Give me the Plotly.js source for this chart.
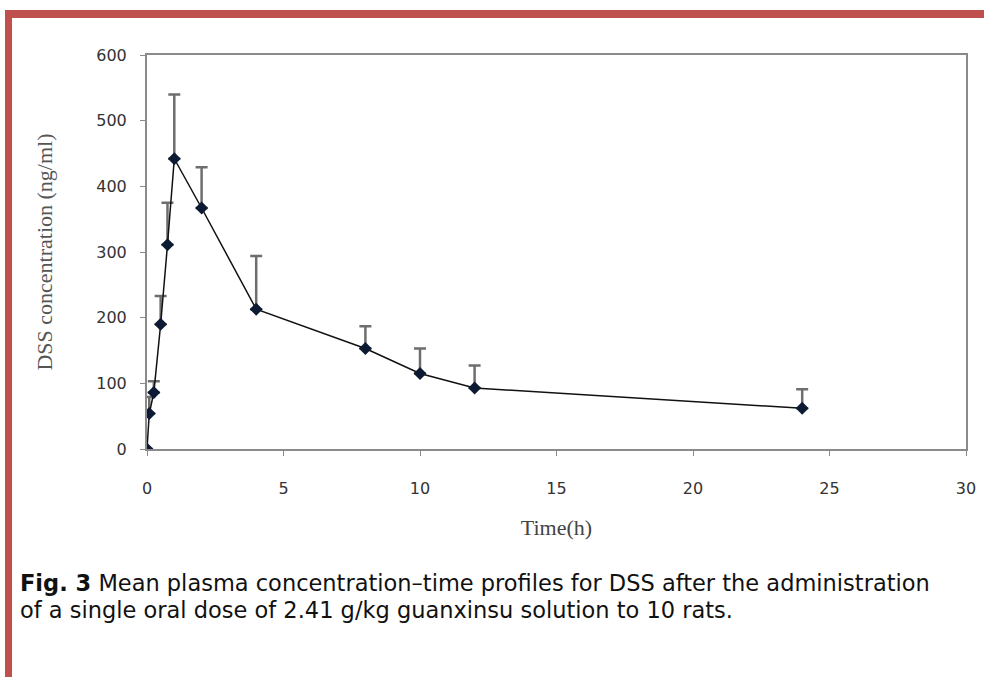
<!DOCTYPE html>
<html>
<head>
<meta charset="utf-8">
<script src="https://cdn.plot.ly/plotly-3.0.1.min.js"></script>
<style>
  html, body { margin: 0; padding: 0; background: #fff; }
  #wrap { position: relative; width: 984px; height: 677px; overflow: hidden; }
  #chart { position: absolute; left: 0; top: 0; width: 984px; height: 677px; }
  #frameTop { position: absolute; left: 5px; top: 10px; width: 979px; height: 8px; background: #c0504d; }
  #frameLeft { position: absolute; left: 5px; top: 10px; width: 7px; height: 667px; background: #c0504d; }
</style>
</head>
<body>
<div id="wrap">
  <div id="chart"></div>
  <div id="frameTop"></div>
  <div id="frameLeft"></div>
</div>
<script>
// Data
const timeH = [0, 0.083, 0.25, 0.5, 0.75, 1, 2, 4, 8, 10, 12, 24];
const meanConc = [0, 54, 86, 190, 311, 442, 367, 213, 153, 115, 93, 62];
const sdUpper = [0, 25, 17, 43, 64, 98, 62, 81, 34, 38, 34, 29];

const xTicks = [0, 5, 10, 15, 20, 25, 30];
const yTicks = [0, 100, 200, 300, 400, 500, 600];

const xTitle = 'Time(h)';
const yTitle = 'DSS concentration (ng/ml)';
const captionBold = 'Fig. 3';
const captionLine1 = ' Mean plasma concentration\u2013time profiles for DSS after the administration';
const captionLine2 = 'of a single oral dose of 2.41 g/kg guanxinsu solution to 10 rats.';

const trace = {
  x: timeH,
  y: meanConc,
  type: 'scatter',
  mode: 'lines+markers',
  line: { color: '#111111', width: 1.5 },
  marker: { symbol: 'diamond', size: 10, color: '#0d1a33' },
  error_y: {
    type: 'data',
    symmetric: false,
    array: sdUpper,
    arrayminus: sdUpper.map(() => 0),
    color: '#6e6e6e',
    thickness: 2.5,
    width: 6
  },
  showlegend: false,
  hoverinfo: 'x+y'
};

const axisCommon = {
  showline: true,
  linecolor: '#8a8a8a',
  linewidth: 2,
  mirror: true,
  showgrid: false,
  zeroline: false,
  ticks: 'outside',
  ticklen: 5,
  tickwidth: 1,
  tickcolor: '#8a8a8a',
  tickfont: { family: 'DejaVu Sans, Verdana, sans-serif', size: 16, color: '#333333' }
};

const layout = {
  width: 984,
  height: 677,
  margin: { l: 147, r: 18, t: 55, b: 228 },
  paper_bgcolor: '#ffffff',
  plot_bgcolor: '#ffffff',
  xaxis: Object.assign({}, axisCommon, {
    range: [0, 30],
    tickvals: xTicks,
    ticktext: xTicks.map(String),
    ticklabelstandoff: 19,
    title: { text: xTitle, font: { family: 'Liberation Serif, Times New Roman, serif', size: 22, color: '#444444' }, standoff: 22 }
  }),
  yaxis: Object.assign({}, axisCommon, {
    range: [0, 600],
    tickvals: yTicks,
    ticktext: yTicks.map(String),
    ticklabelstandoff: 10,
    title: { text: yTitle, font: { family: 'Liberation Serif, Times New Roman, serif', size: 22, color: '#555555' }, standoff: 38 }
  }),
  annotations: [
    {
      xref: 'paper', yref: 'paper',
      x: -0.1575, y: -0.34,
      xanchor: 'left', yanchor: 'middle',
      showarrow: false, align: 'left',
      text: '<b>' + captionBold + '</b>' + captionLine1,
      font: { family: 'DejaVu Sans, Verdana, sans-serif', size: 22.5, color: '#111111' }
    },
    {
      xref: 'paper', yref: 'paper',
      x: -0.1575, y: -0.408,
      xanchor: 'left', yanchor: 'middle',
      showarrow: false, align: 'left',
      text: captionLine2,
      font: { family: 'DejaVu Sans, Verdana, sans-serif', size: 22.5, color: '#111111' }
    }
  ]
};

Plotly.newPlot('chart', [trace], layout, { displayModeBar: false, staticPlot: true });
</script>
</body>
</html>
